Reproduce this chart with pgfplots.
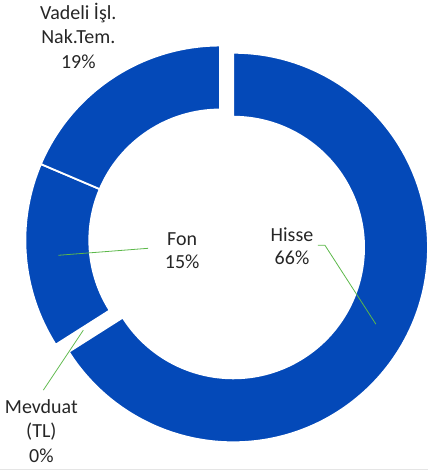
\documentclass[border=0pt]{standalone}
\usepackage{fontspec}
\setmainfont{Carlito}
\usepackage{pgfplots}
\usepackage{pgfplotstable}
\pgfplotsset{compat=1.18}
\definecolor{ring}{HTML}{0449B8}
\definecolor{leader}{HTML}{5CB84A}
\definecolor{txt}{HTML}{262626}

% share of each slice, clockwise from the top
\pgfplotstableread{
label value
Hisse 66.0
Mevduat 0.0
Fon 15.4
Vadeli 18.6
}\piedata

\begin{document}
\begin{tikzpicture}
\pgfplotstablegetelem{0}{value}\of\piedata \let\vHisse\pgfplotsretval
\pgfplotstablegetelem{1}{value}\of\piedata \let\vMevduat\pgfplotsretval
\pgfplotstablegetelem{2}{value}\of\piedata \let\vFon\pgfplotsretval
\pgfplotstablegetelem{3}{value}\of\piedata \let\vVadeli\pgfplotsretval
\pgfmathsetmacro\aStart{90}
\pgfmathsetmacro\aHisse{\aStart-3.6*\vHisse}
\pgfmathsetmacro\aMevduat{\aHisse-3.6*\vMevduat}
\pgfmathsetmacro\aFon{\aMevduat-3.6*\vFon}
\pgfmathsetmacro\aVadeli{\aFon-3.6*\vVadeli}
\pgfmathsetmacro\aMid{(\aStart+\aHisse)/2}
\pgfmathsetmacro\exX{15*cos(\aMid)}
\pgfmathsetmacro\exY{15*sin(\aMid)}
\def\R{195bp}
\def\r{131bp}
\begin{axis}[
    x=1bp, y=1bp,
    xmin=0, xmax=428, ymin=0, ymax=471,
    hide axis, clip=false,
    font=\fontsize{20bp}{24.5bp}\selectfont,
]
\path (axis cs:0,0) rectangle (axis cs:428,471);
% Fon
\fill[ring, draw=white, line width=1.8bp, shift={(axis cs:220,231)}]
    (\aMevduat:\R) arc[start angle=\aMevduat, end angle=\aFon, radius=\R]
    -- (\aFon:\r) arc[start angle=\aFon, end angle=\aMevduat, radius=\r] -- cycle;
% Vadeli
\fill[ring, draw=white, line width=1.8bp, shift={(axis cs:220,231)}]
    (\aFon:\R) arc[start angle=\aFon, end angle=\aVadeli, radius=\R]
    -- (\aVadeli:\r) arc[start angle=\aVadeli, end angle=\aFon, radius=\r] -- cycle;
% Hisse (exploded)
\fill[ring, draw=white, line width=1.8bp, shift={(axis cs:220+\exX,231+\exY)}]
    (\aStart:\R) arc[start angle=\aStart, end angle=\aHisse, radius=\R]
    -- (\aHisse:\r) arc[start angle=\aHisse, end angle=\aStart, radius=\r] -- cycle;

% leader lines
\draw[leader, line width=0.8bp] (axis cs:58,216) -- (axis cs:148,223);
\draw[leader, line width=0.8bp] (axis cs:318,226) -- (axis cs:325,226) -- (axis cs:376,147);
\draw[leader, line width=0.8bp] (axis cs:83,141) -- (axis cs:43,81);

% labels
\node[txt, anchor=base] at (axis cs:78,452) {Vadeli İşl.};
\node[txt, anchor=base] at (axis cs:78,428) {Nak.Tem.};
\node[txt, anchor=base] at (axis cs:78,403) {19\%};
\node[txt, anchor=base] at (axis cs:182,226) {Fon};
\node[txt, anchor=base] at (axis cs:182,203) {15\%};
\node[txt, anchor=base] at (axis cs:292,230) {Hisse};
\node[txt, anchor=base] at (axis cs:292,207) {66\%};
\node[txt, anchor=base] at (axis cs:41,58) {Mevduat};
\node[txt, anchor=base] at (axis cs:41,34) {(TL)};
\node[txt, anchor=base] at (axis cs:41,9) {0\%};

\draw[gray!20, line width=0.8bp] (axis cs:0,1.5) -- (axis cs:428,1.5);
\end{axis}
\end{tikzpicture}
\end{document}
